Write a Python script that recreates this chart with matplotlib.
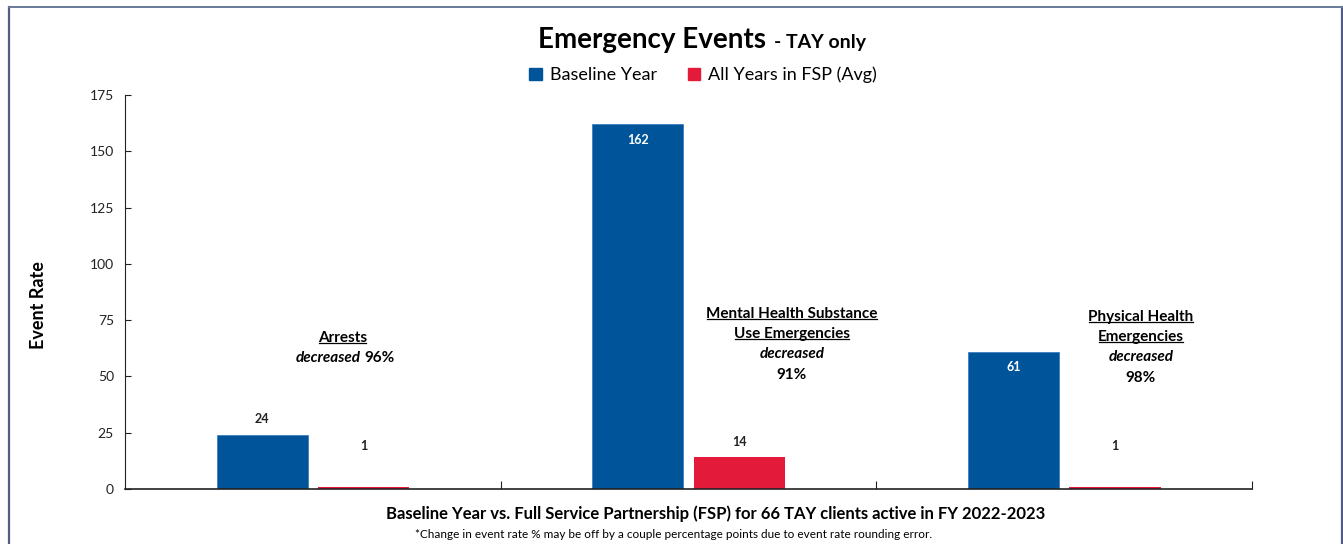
import numpy as np
import matplotlib
matplotlib.use("Agg")
import matplotlib.pyplot as plt
from matplotlib.lines import Line2D
from matplotlib.patches import Patch

plt.rcParams['font.family'] = ['Lato', 'DejaVu Sans']

categories = ["Arrests", "Mental Health Substance\nUse Emergencies", "Physical Health\nEmergencies"]
baseline = [24, 162, 61]
fsp_avg = [1, 14, 1]
decrease_pct = [96, 91, 98]

blue = '#00559a'
red = '#e31a3a'

fig = plt.figure(figsize=(13.43, 5.44), dpi=100)
ax = fig.add_axes([0.0931, 0.1011, 0.8392, 0.7243])

x = np.arange(len(categories))
w = 0.243
ax.bar(x - 0.135, baseline, w, color=blue, edgecolor='#3f7fc2', linewidth=0.6)
ax.bar(x + 0.135, fsp_avg, w, color=red)

ax.set_xlim(-0.5, 2.5)
ax.set_ylim(0, 175)
ax.set_yticks(np.arange(0, 176, 25))
ax.set_xticks([0.5, 1.5, 2.5])
ax.set_xticklabels([])
ax.tick_params(axis='y', direction='in', length=4, labelsize=10, colors='#222222', pad=8)
ax.tick_params(axis='x', direction='in', length=6, colors='#222222')
for s in ['top', 'right']:
    ax.spines[s].set_visible(False)
ax.spines['left'].set_color('#222222')
ax.spines['bottom'].set_color('#222222')
ax.spines['bottom'].set_linewidth(1.2)

# value labels
for i in range(len(categories)):
    v = baseline[i]
    if v > 50:
        ax.annotate(str(v), (x[i] - 0.135, v), xytext=(0, -11), textcoords='offset points',
                    ha='center', va='center', color='white', fontsize=9, fontweight='bold')
    else:
        ax.text(x[i] - 0.135, max(v, 12) + 7, str(v), ha='center', va='center',
                fontsize=9, fontweight='bold', color='#222222')
    f = fsp_avg[i]
    ax.text(x[i] + 0.135, max(f, 12) + 7, str(f), ha='center', va='center',
            fontsize=9, fontweight='bold', color='#222222')

# category annotations
underlines = []
t = ax.text(0.08, 67.1, categories[0], ha='center', va='center', fontsize=11, fontweight='bold')
underlines.append(t)
ax.text(0.128, 58.2, "decreased", ha='right', va='center', fontsize=11, fontweight='bold', style='italic')
ax.text(0.138, 58.2, "%d%%" % decrease_pct[0], ha='left', va='center', fontsize=11, fontweight='bold')

anno = [(1.275, [77.7, 68.8, 59.9, 50.6]), (2.204, [76.4, 67.5, 58.6, 49.3])]
for k, (cx, ys) in enumerate(anno):
    lines = categories[k + 1].split("\n")
    for ln, yy in zip(lines, ys[:2]):
        underlines.append(ax.text(cx, yy, ln, ha='center', va='center', fontsize=11, fontweight='bold'))
    ax.text(cx, ys[2], "decreased", ha='center', va='center', fontsize=11, fontweight='bold', style='italic')
    ax.text(cx, ys[3], "%d%%" % decrease_pct[k + 1], ha='center', va='center', fontsize=11, fontweight='bold')

# title
fig.text(766 / 1343, 1 - 48 / 544, "Emergency Events", ha='right', va='baseline', fontsize=20, fontweight='bold')
fig.text(774 / 1343, 1 - 48 / 544, "- TAY only", ha='left', va='baseline', fontsize=14, fontweight='bold')

handles = [Patch(color=blue), Patch(color=red)]
fig.legend(handles, ["Baseline Year", "All Years in FSP (Avg)"], loc='center',
           bbox_to_anchor=(703 / 1343, 1 - 75 / 544), ncol=2, frameon=False, fontsize=13,
           handlelength=0.7, handleheight=0.7, handletextpad=0.45, columnspacing=1.7)

fig.text(38 / 1343, 1 - 305 / 544, "Event Rate", rotation=90, ha='center', va='center',
         fontsize=13, fontweight='bold')
fig.text(716 / 1343, 1 - 514 / 544,
         "Baseline Year vs. Full Service Partnership (FSP) for 66 TAY clients active in FY 2022-2023",
         ha='center', va='center', fontsize=12, fontweight='bold')
fig.text(674 / 1343, 1 - 535 / 544,
         "*Change in event rate % may be off by a couple percentage points due to event rate rounding error.",
         ha='center', va='center', fontsize=8.5)

# border
fig.add_artist(Line2D([8.5 / 1343, 8.5 / 1343], [0, 1 - 6.5 / 544], transform=fig.transFigure,
                      color='#4e5f82', lw=1.6))
fig.add_artist(Line2D([1341.5 / 1343, 1341.5 / 1343], [0, 1 - 6.5 / 544], transform=fig.transFigure,
                      color='#4e5f82', lw=1.6))
fig.add_artist(Line2D([8.5 / 1343, 1341.5 / 1343], [1 - 6.5 / 544, 1 - 6.5 / 544], transform=fig.transFigure,
                      color='#6a7a98', lw=1.4))

# underline the category names
fig.canvas.draw()
r = fig.canvas.get_renderer()
inv = fig.transFigure.inverted()
for t in underlines:
    bb = t.get_window_extent(r)
    (x0, y0), (x1, y1) = inv.transform([(bb.x0 + 1, bb.y0 + 2), (bb.x1 - 1, bb.y0 + 2)])
    fig.add_artist(Line2D([x0, x1], [y0, y1], transform=fig.transFigure, color='black', lw=0.9))

fig.savefig("out.png", dpi=100)
